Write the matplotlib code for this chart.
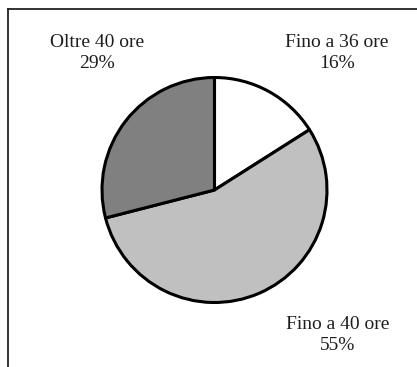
import matplotlib
matplotlib.use("Agg")
import matplotlib.pyplot as plt
from matplotlib.lines import Line2D

# Weekly working-hours distribution
categories = ["Fino a 36 ore", "Fino a 40 ore", "Oltre 40 ore"]
shares = [16, 55, 29]
colors = ["#ffffff", "#c0c0c0", "#808080"]

W, H, DPI = 417, 367, 100
fig = plt.figure(figsize=(W / DPI, H / DPI), dpi=DPI)
fig.patch.set_facecolor("white")

# Pie placed in pixel coordinates: centre ~ (214, 190), radius ~ 112
cx, cy, r = 214.5, 190, 112.5
ax = fig.add_axes([(cx - r) / W, 1 - (cy + r) / H, 2 * r / W, 2 * r / H])
ax.pie(shares, colors=colors, startangle=90, counterclock=False,
       wedgeprops=dict(edgecolor="black", linewidth=2.2, joinstyle="round"),
       radius=1.0)
ax.set_xlim(-1.0, 1.0)
ax.set_ylim(-1.0, 1.0)
ax.set_aspect("equal")
ax.axis("off")

# Labels with percentages
label_pos = {
    "Fino a 36 ore": (337, 53),
    "Fino a 40 ore": (338, 335),
    "Oltre 40 ore": (97, 53),
}
font = dict(family="Liberation Serif", size=14, color="#1e1e1e")
for cat, val in zip(categories, shares):
    px, py = label_pos[cat]
    fig.text(px / W, 1 - py / H, f"{cat}\n{val}%", ha="center", va="center",
             linespacing=1.3, **font)

# Open frame: top and left edges
fig.add_artist(Line2D([7.5 / W, 1.0], [1 - 8.5 / H, 1 - 8.5 / H],
                      transform=fig.transFigure, color="#222222", linewidth=1.3))
fig.add_artist(Line2D([7.5 / W, 7.5 / W], [1 - 8.5 / H, 0.0],
                      transform=fig.transFigure, color="#222222", linewidth=1.3))

fig.savefig("out.png", dpi=DPI, facecolor="white")
